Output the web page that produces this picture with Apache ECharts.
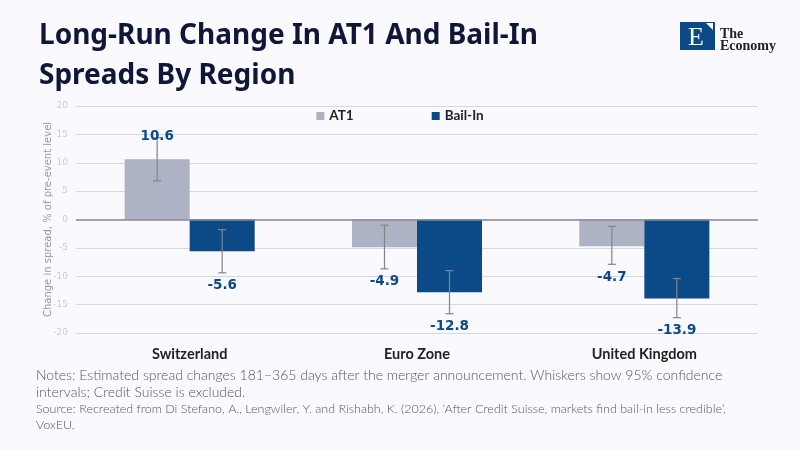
<!DOCTYPE html>
<html>
<head>
<meta charset="utf-8">
<script src="https://cdn.jsdelivr.net/npm/echarts@6/dist/echarts.min.js"></script>
<style>
html,body{margin:0;padding:0;background:#f9f9fe;}
#c{width:800px;height:450px;}
</style>
</head>
<body>
<div id="c"></div>
<script>
var categories = ['Switzerland', 'Euro Zone', 'United Kingdom'];
var at1 = [10.6, -4.9, -4.7];
var bailIn = [-5.6, -12.8, -13.9];
var at1Lo = [6.8, -8.7, -7.9];
var at1Hi = [14.4, -1.0, -1.2];
var bailLo = [-9.4, -16.6, -17.3];
var bailHi = [-1.8, -9.0, -10.4];
var yTicks = [-20, -15, -10, -5, 0, 5, 10, 15, 20];

var AT1_COLOR = '#adb3c4';
var BAIL_COLOR = '#0b4a87';

function errSeries(name, vals, lo, hi, side) {
  var data = categories.map(function (c, i) { return [i, lo[i], hi[i], vals[i]]; });
  return {
    type: 'custom',
    name: name + ' CI',
    silent: true,
    z: 5,
    data: data,
    encode: { x: 0, y: [1, 2] },
    renderItem: function (params, api) {
      var i = api.value(0);
      var band = api.size([1, 0])[0];
      var off = band * 0.143 * side;
      var pLo = api.coord([i, api.value(1)]);
      var pHi = api.coord([i, api.value(2)]);
      var v = api.value(3);
      var x = pLo[0] + off;
      var cap = 4;
      var st = { stroke: '#858585', lineWidth: 1.2 };
      var ly = v >= 0 ? pHi[1] - 1 : pLo[1] + 13;
      return {
        type: 'group',
        children: [
          { type: 'line', shape: { x1: x, y1: pLo[1], x2: x, y2: pHi[1] }, style: st },
          { type: 'line', shape: { x1: x - cap, y1: pLo[1], x2: x + cap, y2: pLo[1] }, style: st },
          { type: 'line', shape: { x1: x - cap, y1: pHi[1], x2: x + cap, y2: pHi[1] }, style: st },
          { type: 'text', style: { x: x, y: ly, text: v.toFixed(1), align: 'center', verticalAlign: 'middle',
              fill: BAIL_COLOR, font: 'bold 13.5px "DejaVu Sans", Verdana, sans-serif' } }
        ]
      };
    }
  };
}

var chart = echarts.init(document.getElementById('c'));
chart.setOption({
  backgroundColor: '#f9f9fe',
  animation: false,
  title: {
    text: 'Long-Run Change In AT1 And Bail-In\nSpreads By Region',
    left: 34, top: 11,
    textStyle: { fontFamily: '"Noto Sans", Lato, sans-serif', fontWeight: 'bold', fontSize: 28, lineHeight: 40, color: '#0e1737' }
  },
  legend: {
    data: ['AT1', 'Bail-In'],
    left: 'center', top: 104,
    itemWidth: 8, itemHeight: 8, itemGap: 78,
    icon: 'rect',
    textStyle: { fontFamily: 'Lato, "Noto Sans", sans-serif', fontWeight: 'bold', fontSize: 13.5, color: '#222222' }
  },
  grid: { left: 76, right: 42, top: 106, bottom: 117, containLabel: false },
  xAxis: {
    type: 'category',
    data: categories,
    axisLine: { show: false },
    axisTick: { show: false },
    axisLabel: { margin: 14, fontFamily: 'Lato, "Noto Sans", sans-serif', fontWeight: 'bold', fontSize: 14.5, color: '#222222' }
  },
  yAxis: {
    type: 'value',
    min: -20, max: 20, interval: 5,
    name: 'Change in spread, % of pre-event level',
    nameLocation: 'middle',
    nameGap: 23,
    nameMoveOverlap: false,
    nameTextStyle: { fontFamily: '"DejaVu Sans", Verdana, sans-serif', fontSize: 10, color: '#8f9ab6' },
    axisLine: { show: false },
    axisTick: { show: false },
    axisLabel: { fontFamily: '"DejaVu Sans", Verdana, sans-serif', fontSize: 9, color: '#c6cde0', margin: 8,
      formatter: function (v) { return yTicks.indexOf(v) >= 0 ? String(v) : ''; } },
    splitLine: { lineStyle: { color: '#d3d9e6', width: 1 } }
  },
  series: [
    {
      name: 'AT1', type: 'bar', data: at1, barWidth: '28.6%', barGap: '0%',
      itemStyle: { color: AT1_COLOR },
      markLine: {
        silent: true, symbol: 'none', label: { show: false },
        lineStyle: { color: '#878a94', width: 1.5, type: 'solid' },
        data: [{ yAxis: 0 }]
      }
    },
    {
      name: 'Bail-In', type: 'bar', data: bailIn, barWidth: '28.6%', barGap: '0%',
      itemStyle: { color: BAIL_COLOR }
    },
    errSeries('AT1', at1, at1Lo, at1Hi, -1),
    errSeries('Bail-In', bailIn, bailLo, bailHi, 1)
  ],
  graphic: [
    { type: 'text', left: 36, top: 367,
      style: { text: 'Notes: Estimated spread changes 181–365 days after the merger announcement. Whiskers show 95% confidence\nintervals; Credit Suisse is excluded.',
        font: '300 14px Lato, "Noto Sans", sans-serif', lineHeight: 17, fill: '#4d5873' } },
    { type: 'text', left: 36, top: 401,
      style: { text: 'Source: Recreated from Di Stefano, A., Lengwiler, Y. and Rishabh, K. (2026), ‘After Credit Suisse, markets find bail-in less credible’,\nVoxEU,',
        font: '300 12.5px Lato, "Noto Sans", sans-serif', lineHeight: 16, fill: '#4d5873' } },
    { type: 'rect', shape: { x: 680, y: 22, width: 35, height: 28 }, style: { fill: '#0b4a87' } },
    { type: 'polygon', shape: { points: [[706, 23], [713, 23], [713, 30]] }, style: { fill: '#ffffff' } },
    { type: 'text', style: { x: 696, y: 38, text: 'E', align: 'center', verticalAlign: 'middle',
        font: '26px "Liberation Serif", "DejaVu Serif", serif', fill: '#ffffff' } },
    { type: 'text', style: { x: 720, y: 34, text: 'The', verticalAlign: 'middle',
        font: 'bold 14px "Liberation Serif", "DejaVu Serif", serif', fill: '#1e1e2a' } },
    { type: 'text', style: { x: 720, y: 46, text: 'Economy', verticalAlign: 'middle',
        font: 'bold 14px "Liberation Serif", "DejaVu Serif", serif', fill: '#1e1e2a' } }
  ]
});
</script>
</body>
</html>
